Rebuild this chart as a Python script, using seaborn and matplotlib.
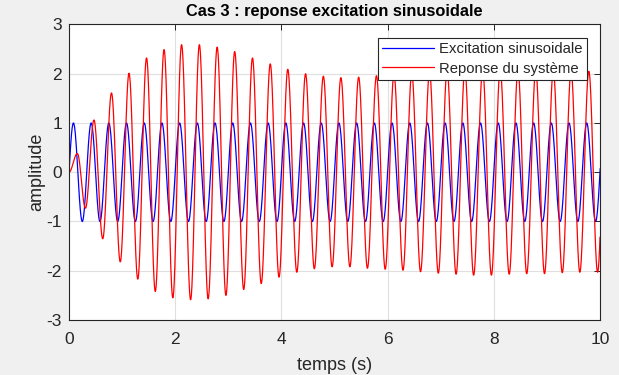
import numpy as np
import pandas as pd
import seaborn as sns
import matplotlib.pyplot as plt

# extrema of the excitation (time s, value)
exc_t = [-0.083,
         0.083, 0.250, 0.417, 0.583, 0.750, 0.917,
         1.083, 1.250, 1.417, 1.583, 1.750, 1.917,
         2.083, 2.250, 2.417, 2.583, 2.750, 2.917,
         3.083, 3.250, 3.417, 3.583, 3.750, 3.917,
         4.083, 4.250, 4.417, 4.583, 4.750, 4.917,
         5.083, 5.250, 5.417, 5.583, 5.750, 5.917,
         6.083, 6.250, 6.417, 6.583, 6.750, 6.917,
         7.083, 7.250, 7.417, 7.583, 7.750, 7.917,
         8.083, 8.250, 8.417, 8.583, 8.750, 8.917,
         9.083, 9.250, 9.417, 9.583, 9.750, 9.917,
         10.083]
exc_v = [-1] + [1, -1, 1, -1, 1, -1] * 10 + [1]

# extrema of the system response (time s, value)
rep_t = [0.0,
         0.157, 0.31, 0.47, 0.635, 0.80, 0.965,
         1.13, 1.295, 1.46, 1.625, 1.79, 1.955,
         2.12, 2.29, 2.455, 2.62, 2.79, 2.955,
         3.12, 3.29, 3.455, 3.62, 3.79, 3.955,
         4.12, 4.29, 4.455, 4.62, 4.79, 4.955,
         5.12, 5.29, 5.455, 5.62, 5.79, 5.955,
         6.12, 6.29, 6.455, 6.62, 6.79, 6.955,
         7.12, 7.29, 7.455, 7.62, 7.79, 7.955,
         8.12, 8.29, 8.455, 8.62, 8.79, 8.955,
         9.12, 9.29, 9.455, 9.62, 9.79, 9.955,
         10.12]
rep_v = [0.0,
         0.38, -0.73, 1.06, -1.35, 1.61, -1.82,
         2.01, -2.17, 2.32, -2.42, 2.49, -2.55,
         2.59, -2.59, 2.59, -2.57, 2.54, -2.50,
         2.45, -2.38, 2.32, -2.26, 2.20, -2.13,
         2.09, -2.03, 2.00, -1.96, 1.95, -1.92,
         1.92, -1.92, 1.93, -1.95, 1.96, -1.97,
         1.99, -1.99, 2.01, -2.02, 2.03, -2.05,
         2.06, -2.07, 2.07, -2.09, 2.08, -2.09,
         2.08, -2.07, 2.07, -2.06, 2.06, -2.06,
         2.05, -2.04, 2.05, -2.03, 2.05, -2.03,
         2.04]

labels = ["Excitation sinusoidale", "Reponse du système"]


def through_extrema(ts, vs, n=40):
    # half-cosine between successive extrema (zero slope at each one)
    tt, yy = [], []
    for i in range(len(ts) - 1):
        s = np.linspace(0, 1, n, endpoint=False)
        tt.append(ts[i] + s * (ts[i + 1] - ts[i]))
        yy.append(vs[i] + (vs[i + 1] - vs[i]) * (1 - np.cos(np.pi * s)) / 2)
    tt.append([ts[-1]])
    yy.append([vs[-1]])
    return np.concatenate(tt), np.concatenate(yy)


t1, y1 = through_extrema(exc_t, exc_v)
t2, y2 = through_extrema(rep_t, rep_v)
df = pd.concat([
    pd.DataFrame({"t": t1, "y": y1, "serie": labels[0]}),
    pd.DataFrame({"t": t2, "y": y2, "serie": labels[1]}),
])

sns.set_theme(style="white")
plt.rcParams["font.family"] = ["Liberation Sans", "DejaVu Sans"]
plt.rcParams["axes.unicode_minus"] = False
plt.rcParams["axes.edgecolor"] = "#262626"
plt.rcParams["xtick.color"] = "#262626"
plt.rcParams["ytick.color"] = "#262626"

fig = plt.figure(figsize=(6.19, 3.75), dpi=100, facecolor="#f0f0f0")
ax = fig.add_axes([0.1115, 0.1467, 0.8578, 0.788])
ax.set_facecolor("white")

sns.lineplot(data=df, x="t", y="y", hue="serie", palette=["#0000ff", "#ff0000"],
             estimator=None, sort=False, lw=0.9, ax=ax)

ax.set_xlim(0, 10)
ax.set_ylim(-3, 3)
ax.set_xticks(range(0, 11, 2))
ax.set_yticks(range(-3, 4))
ax.grid(True, color="#dfdfdf", lw=0.8)
ax.tick_params(direction="in", length=4, width=0.7, labelsize=12.5,
               top=True, right=True)
ax.tick_params(axis="x", pad=9)
ax.tick_params(axis="y", pad=5)
for sp in ax.spines.values():
    sp.set_linewidth(0.8)
    sp.set_visible(True)

ax.set_xlabel("temps (s)", fontsize=13, color="#262626", labelpad=7)
ax.set_ylabel("amplitude", fontsize=13, color="#262626", labelpad=1)
ax.set_title("Cas 3 : reponse excitation sinusoidale", fontsize=11.8,
             fontweight="bold", color="black", pad=6)

leg = ax.legend(loc="upper right", fancybox=False, framealpha=1, edgecolor="#262626",
                fontsize=10.7, handlelength=3.5, handletextpad=0.3,
                borderaxespad=0.9, labelspacing=0.35, borderpad=0.3)
leg.get_frame().set_linewidth(0.8)
for line in leg.get_lines():
    line.set_linewidth(0.9)

fig.savefig("out.png", dpi=100, facecolor=fig.get_facecolor())
